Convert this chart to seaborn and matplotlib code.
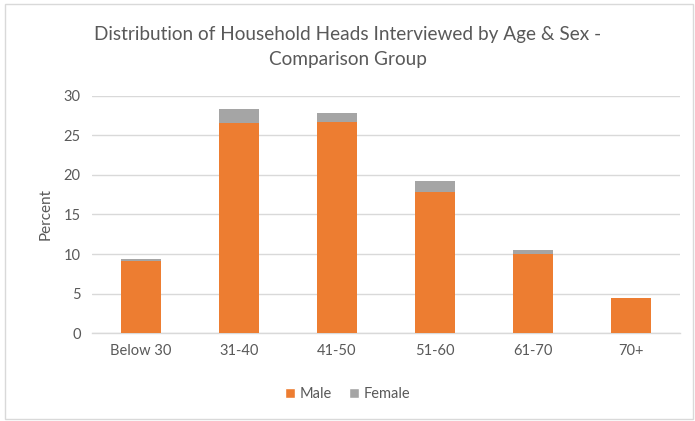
import matplotlib
matplotlib.use("Agg")
import matplotlib.pyplot as plt
import seaborn as sns
import pandas as pd
from matplotlib.patches import Rectangle, Patch

age_groups = ["Below 30", "31-40", "41-50", "51-60", "61-70", "70+"]
male = [9.1, 26.6, 26.7, 17.8, 10.0, 4.4]
female = [0.3, 1.7, 1.1, 1.5, 0.5, 0.0]
y_ticks = [0, 5, 10, 15, 20, 25, 30]

title = "Distribution of Household Heads Interviewed by Age & Sex -\nComparison Group"

sns.set_theme(style="white")
plt.rcParams["font.family"] = ["Lato", "DejaVu Sans"]

ORANGE = "#ED7D31"
GRAY = "#A5A5A5"
TEXT = "#595959"

df = pd.DataFrame({"age": age_groups, "male": male, "female": female})
df["total"] = df["male"] + df["female"]

fig = plt.figure(figsize=(6.95, 4.21), dpi=100)
ax = fig.add_axes([0.132, 0.209, 0.846, 0.563])

# stacked: total height in gray, male portion drawn over it in orange
sns.barplot(data=df, x="age", y="total", color=GRAY, width=0.41,
            saturation=1, linewidth=0, ax=ax, zorder=2)
sns.barplot(data=df, x="age", y="male", color=ORANGE, width=0.41,
            saturation=1, linewidth=0, ax=ax, zorder=3)

ax.set_ylim(0, 30)
ax.set_yticks(y_ticks)
ax.set_xlim(-0.5, len(age_groups) - 0.5)
ax.yaxis.grid(True, color="#D9D9D9", linewidth=1)
ax.set_axisbelow(True)
for s in ["top", "right", "left"]:
    ax.spines[s].set_visible(False)
ax.spines["bottom"].set_color("#D9D9D9")
ax.spines["bottom"].set_linewidth(1)
ax.tick_params(axis="both", length=0, labelsize=10.5, labelcolor=TEXT, pad=8)
ax.set_xlabel("")
ax.set_ylabel("Percent", fontsize=11, color=TEXT, labelpad=8)

fig.text(0.5, 0.889, title, ha="center", va="center", fontsize=13.7,
         color=TEXT, linespacing=1.6)

handles = [Patch(facecolor=ORANGE, label="Male"),
           Patch(facecolor=GRAY, label="Female")]
fig.legend(handles=handles, loc="center", bbox_to_anchor=(0.5, 0.063), ncol=2,
           frameon=False, fontsize=10.5, labelcolor=TEXT, handlelength=0.7,
           handleheight=0.7, handletextpad=0.3, columnspacing=1.2)

fig.patches.append(Rectangle((0.007, 0.005), 0.99, 0.985, transform=fig.transFigure,
                             fill=False, edgecolor="#D9D9D9", linewidth=1))

fig.savefig("out.png", dpi=100)
